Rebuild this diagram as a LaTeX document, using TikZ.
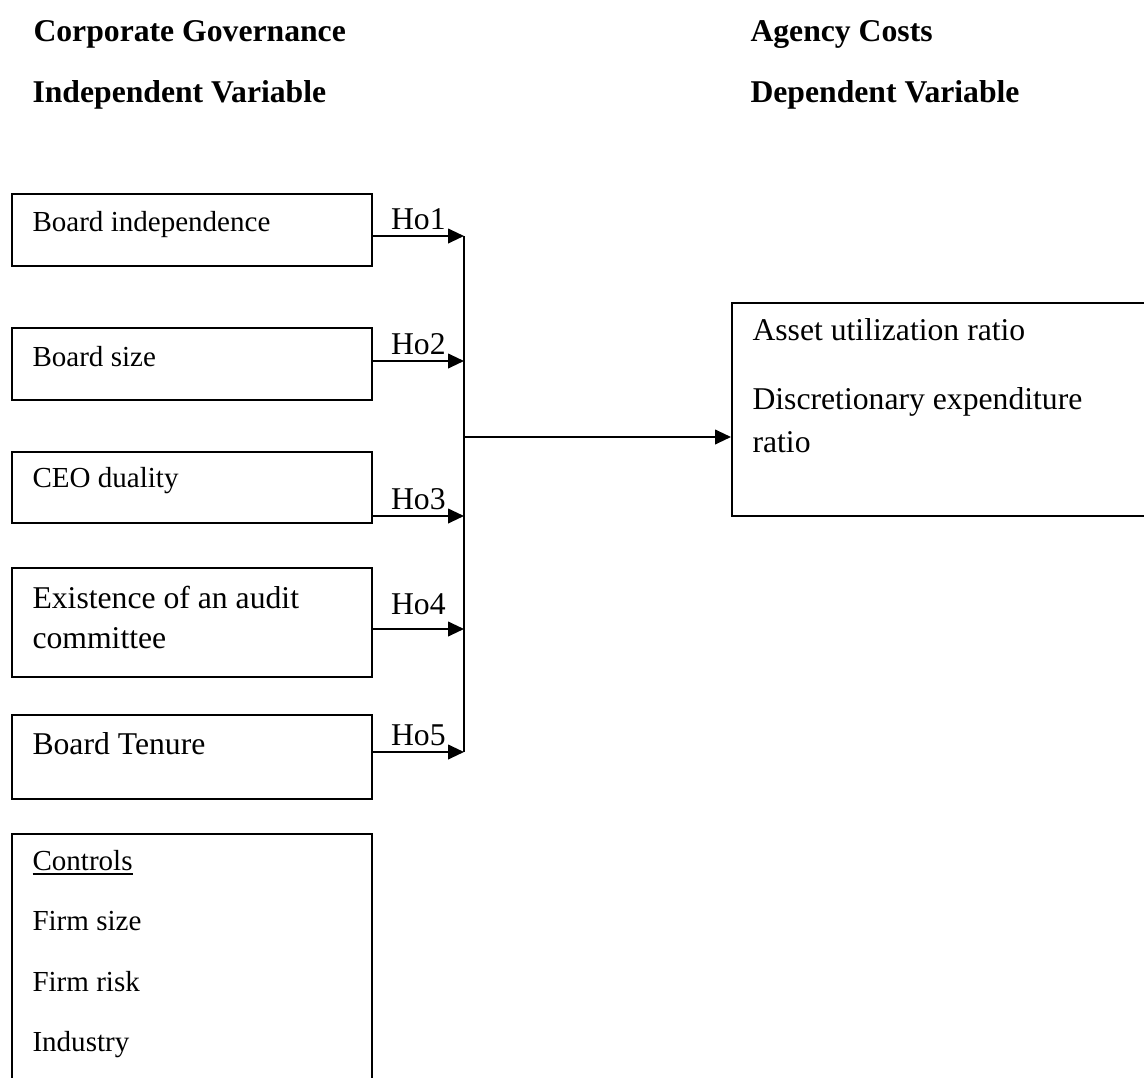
\documentclass[tikz,border=0pt]{standalone}
\usepackage{fontspec}
\setmainfont{Liberation Serif}
\usetikzlibrary{arrows.meta}

\begin{document}
\begin{tikzpicture}[x=0.3788pt, y=-0.3788pt, >={Triangle[length=6pt, width=5.5pt]},
		box/.style={rectangle, draw=black, line width=0.6pt, anchor=north west, minimum width=136.4pt, inner sep=0pt},
		txt/.style={anchor=base west, inner sep=0pt, font=\fontsize{12}{14}\selectfont},
		small/.style={anchor=base west, inner sep=0pt, font=\fontsize{11}{13}\selectfont},
		head/.style={anchor=base west, inner sep=0pt, font=\fontsize{12}{14}\selectfont\bfseries},
		hyp/.style={above, inner sep=2pt, font=\fontsize{12}{14}\selectfont},
		link/.style={->, line width=0.75pt}]
		
		\clip (0,0) rectangle (1144,1078);
		
		% headings
		\node[head] (cg) at (33,42) {Corporate Governance};
		\node[head] (iv) at (32,102) {Independent Variable};
		\node[head] (ac) at (750,42) {Agency Costs};
		\node[head] (dv) at (750,102) {Dependent Variable};
		
		% independent variables
		\node[box, minimum height=27.3pt] (bind) at (11,193) {};
		\node[small] (tbind) at (32,231) {Board independence};
		\node[box, minimum height=27.3pt] (bsize) at (11,327) {};
		\node[small] (tbsize) at (32,366) {Board size};
		\node[box, minimum height=26.9pt] (duality) at (11,451) {};
		\node[small] (tduality) at (32,487) {CEO duality};
		\node[box, minimum height=41.3pt] (audit) at (11,567) {};
		\node[txt] (taudit) at (32,608) {Existence of an audit};
		\node[txt] (taudit2) at (32,648) {committee};
		\node[box, minimum height=31.8pt] (tenure) at (11,714) {};
		\node[txt] (ttenure) at (32,754) {Board Tenure};
		
		% controls
		\node[box, minimum height=100pt] (ctrl) at (11,833) {};
		\node[small] (tctrl) at (32,870) {\underline{Controls}};
		\node[small] (tfsize) at (32,930) {Firm size};
		\node[small] (tfrisk) at (32,991) {Firm risk};
		\node[small] (tind) at (32,1051) {Industry};
		
		% dependent variable
		\node[box, minimum width=163pt, minimum height=80.7pt] (dep) at (731,302) {};
		\node[txt] (tasset) at (752,340) {Asset utilization ratio};
		\node[txt] (tdisc) at (752,409) {Discretionary expenditure};
		\node[txt] (tdisc2) at (752,452) {ratio};
		
		% bus
		\coordinate (h1) at (464,236);
		\coordinate (h2) at (464,361);
		\coordinate (h3) at (464,516);
		\coordinate (h4) at (464,629);
		\coordinate (h5) at (464,752);
		\coordinate (hm) at (464,437);
		\draw[line width=0.6pt] (h1) -- (h5);
		
		\draw[link] (bind.east |- h1) -- node[hyp] {Ho1} (h1);
		\draw[link] (bsize.east |- h2) -- node[hyp] {Ho2} (h2);
		\draw[link] (duality.east |- h3) -- node[hyp] {Ho3} (h3);
		\draw[link] (audit.east |- h4) -- node[hyp, inner sep=5pt] {Ho4} (h4);
		\draw[link] (tenure.east |- h5) -- node[hyp] {Ho5} (h5);
		
		\draw[link] (hm) -- (dep.west |- hm);
	\end{tikzpicture}
\end{document}
